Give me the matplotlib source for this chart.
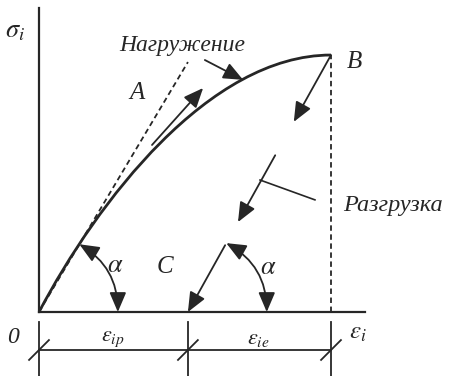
import numpy as np
import matplotlib
matplotlib.use("Agg")
import matplotlib.pyplot as plt
from matplotlib.patches import FancyArrowPatch, PathPatch
from matplotlib.path import Path

plt.rcParams["mathtext.fontset"] = "stix"

# --- diagram data (strain / stress in relative units, equal scale) ---
eps_B, sig_B = 1.0, 0.88          # point B (end of loading)
eps_C = 0.51                      # point C (residual plastic strain)
tangent_end = (0.51, 0.856)       # initial elastic slope (dashed)
curve_eps = [0.0, 0.199, 0.582, 1.0]   # loading curve, cubic bezier control points
curve_sig = [0.0, 0.377, 0.88, 0.88]
unload_parts = [(0.0, 0.26), (0.39, 0.65), (0.74, 1.0)]  # arrow pieces along B->C
arc_r = 0.27

INK = "#262626"
PX = 292.0  # pixels per unit

fig = plt.figure(figsize=(4.53, 3.76), dpi=100)
ax = fig.add_axes([39 / 453, 64 / 376, 326 / 453, 304 / 376])
ax.set_xlim(0, 326 / PX)
ax.set_ylim(0, 304 / PX)
for s in ["top", "right"]:
    ax.spines[s].set_visible(False)
for s in ["left", "bottom"]:
    ax.spines[s].set_linewidth(1.6)
    ax.spines[s].set_color(INK)
ax.set_xticks([])
ax.set_yticks([])

serif = dict(family="Liberation Serif", style="italic", color=INK)


def arrow(p0, p1, rad=0.0, style="-|>", lw=1.3):
    a = FancyArrowPatch(p0, p1, arrowstyle=style + ",head_length=0.75,head_width=0.32",
                        connectionstyle=f"arc3,rad={rad}", mutation_scale=16,
                        lw=lw, color=INK, shrinkA=0, shrinkB=0, clip_on=False)
    ax.add_patch(a)


# loading curve
verts = list(zip(curve_eps, curve_sig))
ax.add_patch(PathPatch(Path(verts, [Path.MOVETO, Path.CURVE4, Path.CURVE4, Path.CURVE4]),
                       fc="none", ec=INK, lw=2.0))

# dashed elastic tangent and vertical from B
ax.plot([0, tangent_end[0]], [0, tangent_end[1]], ls=(0, (3, 2)), lw=1.3, color=INK)
ax.plot([eps_B, eps_B], [0, sig_B], ls=(0, (3, 2)), lw=1.3, color=INK)

# unloading B -> C drawn as arrow pieces
for t0, t1 in unload_parts:
    p0 = (eps_B + (eps_C - eps_B) * t0, sig_B * (1 - t0))
    p1 = (eps_B + (eps_C - eps_B) * t1, sig_B * (1 - t1))
    arrow(p0, p1)

# angle arcs
th1 = np.arctan2(tangent_end[1], tangent_end[0])
th2 = np.arctan2(sig_B, eps_B - eps_C)
arrow((arc_r * np.cos(th1), arc_r * np.sin(th1)), (arc_r, 0), rad=-np.tan(th1 / 2) / 2,
      style="<|-|>")
arrow((eps_C + arc_r * np.cos(th2), arc_r * np.sin(th2)), (eps_C + arc_r, 0),
      rad=-np.tan(th2 / 2) / 2, style="<|-|>")

# loading arrows
arrow((0.568, 0.863), (0.699, 0.795))
arrow((0.387, 0.572), (0.562, 0.767))
# leader for "Разгрузка"
ax.plot([0.757, 0.945], [0.452, 0.384], lw=1.2, color=INK)

# dimension lines below axis
dim_y = -38 / PX
for e in [0.0, eps_C, eps_B]:
    ax.plot([e, e], [-10 / PX, -64 / PX], lw=1.3, color=INK, clip_on=False)
    ax.plot([e - 0.034, e + 0.034], [dim_y - 0.034, dim_y + 0.034], lw=1.3,
            color=INK, clip_on=False)
ax.plot([0, eps_B], [dim_y, dim_y], lw=1.3, color=INK, clip_on=False)

# labels
ax.text(-0.082, 0.966, r"$\sigma_i$", fontsize=19, color=INK, ha="center", va="center")
ax.text(1.092, -0.068, r"$\varepsilon_i$", fontsize=18, color=INK, ha="center", va="center")
ax.text(-0.089, -0.089, "0", fontsize=17, ha="center", va="center", **serif)
ax.text(0.253, dim_y + 0.005, r"$\varepsilon_{ip}$", fontsize=16, color=INK, ha="center", va="bottom")
ax.text(0.75, dim_y + 0.005, r"$\varepsilon_{ie}$", fontsize=16, color=INK, ha="center", va="bottom")
ax.text(0.49, 0.914, "Нагружение", fontsize=17, ha="center", va="center", **serif)
ax.text(1.041, 0.366, "Разгрузка", fontsize=17.5, ha="left", va="center", **serif)
ax.text(0.336, 0.75, "A", fontsize=18, ha="center", va="center", **serif)
ax.text(1.079, 0.856, "B", fontsize=18, ha="center", va="center", **serif)
ax.text(0.43, 0.154, "C", fontsize=18, ha="center", va="center", **serif)
ax.text(0.26, 0.16, r"$\alpha$", fontsize=19, color=INK, ha="center", va="center")
ax.text(0.784, 0.154, r"$\alpha$", fontsize=19, color=INK, ha="center", va="center")

fig.savefig("out.png", dpi=100, facecolor="white")
